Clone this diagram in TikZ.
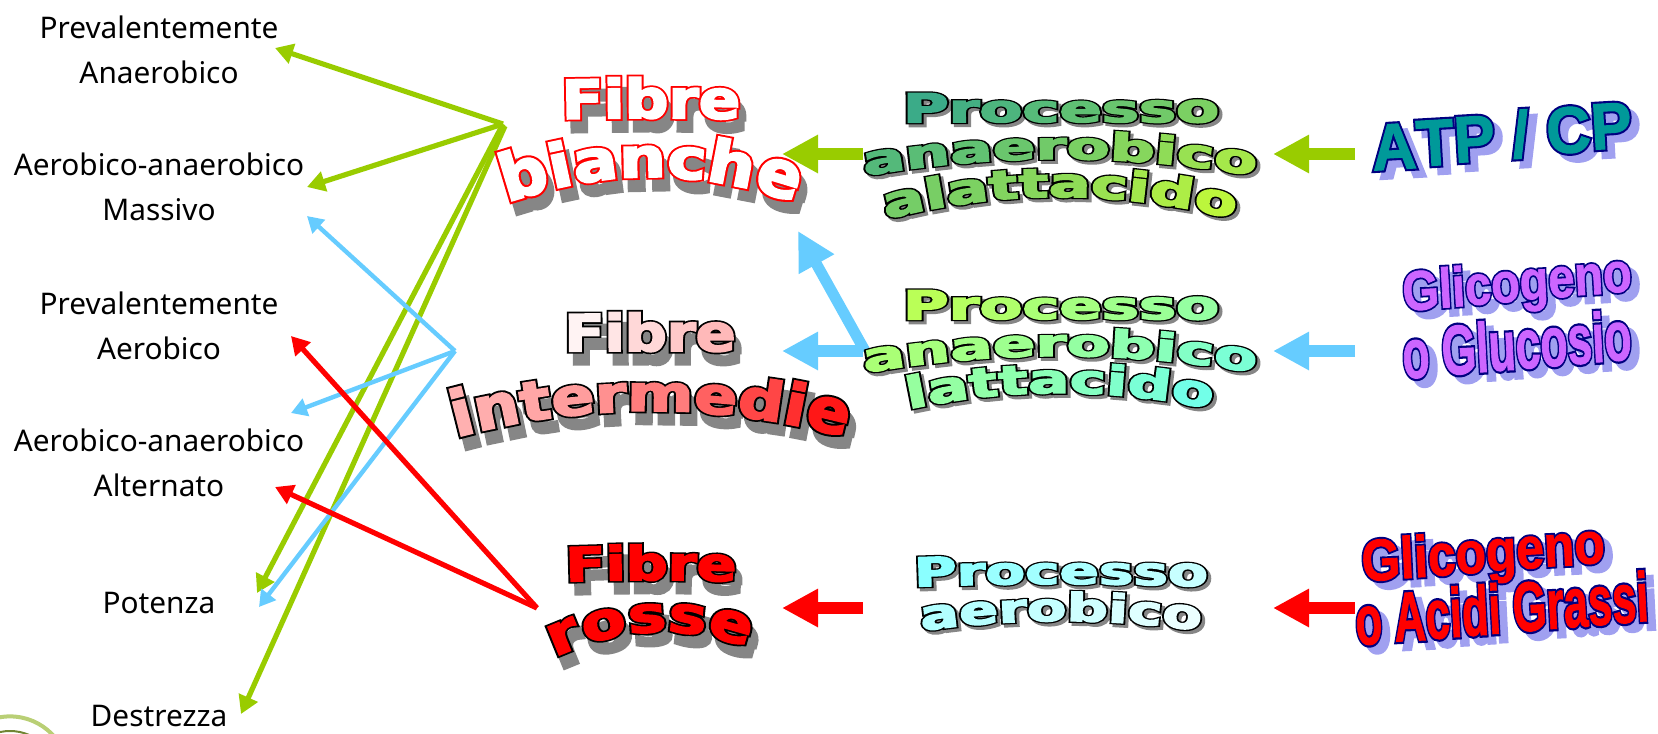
\documentclass[tikz,border=0pt]{standalone}
\usepackage{fontspec}
\usepackage{graphicx}
\usetikzlibrary{arrows.meta}
\setmainfont{Noto Sans}
\newfontfamily\waBlackS[FakeBold=10]{DejaVu Sans Bold}
\newfontfamily\waBlackF[FakeBold=3.5]{DejaVu Sans Bold}
\newfontfamily\waBoldS[FakeBold=8]{Liberation Sans Bold}
\newfontfamily\waBoldF[FakeBold=1.5]{Liberation Sans Bold}
\definecolor{agreen}{HTML}{99CC00}
\definecolor{ablue}{HTML}{66CCFF}
\definecolor{ared}{HTML}{FF0000}
\definecolor{shgray}{HTML}{868686}
\definecolor{shviolet}{HTML}{A0A0F0}
\definecolor{navy}{HTML}{000080}
\definecolor{teal1}{HTML}{1E9A9A}
\definecolor{lime}{HTML}{CCFF33}
\definecolor{cyan1}{HTML}{66FFFF}
\definecolor{violet1}{HTML}{CC66FF}
\definecolor{teal2}{HTML}{009999}
\makeatletter
\newlength\wa@w \newlength\wa@total \newlength\wa@pos \newcount\wa@n
\def\wa@measure{\setbox0\hbox{\pgfinterruptpicture\WAfs\fontsize{20pt}{20pt}\selectfont\wa@c\endpgfinterruptpicture}\wa@w=\wd0\relax}
\def\WAstyle#1#2#3#4#5#6#7#8{% S-font,F-font,stroke,shadow,dx,dy,rotfactor,endgrowth
  \def\WAfs{#1}\def\WAff{#2}\def\WAst{#3}\def\WAsh{#4}\def\WAdx{#5}\def\WAdy{#6}\def\WArf{#7}\def\WAg{#8}}
\def\WAgrad#1#2#3#4#5#6{\def\WAca{#1}\def\WAcb{#2}\def\WAxa{#3}\def\WAya{#4}\def\WAxb{#5}\def\WAyb{#6}}
% name, cx, cy, width px, cap height px, k, slope, word
\newcommand\wordart[8]{%
  \setlength\wa@total{0pt}%
  \@tfor\wa@c:=#8\do{\wa@measure\addtolength\wa@total{\wa@w}}%
  \pgfmathsetmacro\wa@sx{#4*0.5/\wa@total}%
  \pgfmathsetmacro\wa@sy{#5*0.5/(20*\WAcap)}%
  \setlength\wa@pos{0pt}\wa@n=0
  \@tfor\wa@c:=#8\do{\wa@geom{#2}{#3}{#4}{#6}{#7}%
    \node[wachar,name=#1-s\the\wa@n,rotate=\wa@r] at (\wa@x+\WAdx,\wa@y+\WAdy)
      {\WAfs\fontsize{20pt}{20pt}\selectfont\color{\WAsh}\scalebox{\wa@sx}[\wa@lsy]{\wa@c}};}%
  \setlength\wa@pos{0pt}\wa@n=0
  \@tfor\wa@c:=#8\do{\wa@geom{#2}{#3}{#4}{#6}{#7}%
    \pgfmathsetmacro\wa@t{100*max(0,min(1,0.5*((\wa@x-\WAxa)/(\WAxb-\WAxa)+(\wa@y-\WAya)/(\WAyb-\WAya))))}%
    \node[wachar,name=#1-o\the\wa@n,rotate=\wa@r] at (\wa@x,\wa@y)
      {\WAfs\fontsize{20pt}{20pt}\selectfont\color{\WAst}\scalebox{\wa@sx}[\wa@lsy]{\wa@c}};
    \node[wachar,name=#1-f\the\wa@n,rotate=\wa@r] at (\wa@x,\wa@y)
      {\WAff\fontsize{20pt}{20pt}\selectfont\color{\WAcb!\wa@t!\WAca}\scalebox{\wa@sx}[\wa@lsy]{\wa@c}};}%
}
\def\wa@geom#1#2#3#4#5{%
  \advance\wa@n by 1
  \wa@measure
  \pgfmathsetmacro\wa@dx{(\wa@pos+0.5*\wa@w)*\wa@sx/0.5-#3/2}%
  \pgfmathsetmacro\wa@h{\wa@dx/100}%
  \pgfmathsetmacro\wa@x{#1+\wa@dx}%
  \pgfmathsetmacro\wa@y{#2+#5*\wa@dx+(10000*#4)*\wa@h*\wa@h}%
  \pgfmathsetmacro\wa@s{#5+2*#4*\wa@dx}%
  \pgfmathsetmacro\wa@r{-\WArf*57.296*\wa@s*(1-\wa@s*\wa@s/3+\wa@s*\wa@s*\wa@s*\wa@s/5)}%
  \pgfmathsetmacro\wa@lsy{\wa@sy*(1+\WAg*(2*\wa@dx/#3)*(2*\wa@dx/#3))}%
  \addtolength\wa@pos{\wa@w}}
\makeatother
\def\WAcap{0.729}
\tikzset{
  wachar/.style={anchor=base,inner sep=0pt,outer sep=0pt},
  lab/.style={align=center,font=\fontsize{14.9pt}{22.6pt}\selectfont,inner sep=0pt,text=black},
  thin arrow/.style={line width=2.6pt,-{Triangle[length=9pt,width=10pt]}},
  thinb arrow/.style={line width=2.2pt,-{Triangle[length=8pt,width=9pt]}},
  block arrow/.style={line width=6pt,-{Triangle[length=18pt,width=18pt]}},
}
\begin{document}
\begin{tikzpicture}[x=0.5pt,y=-0.5pt]
\useasboundingbox (0,0) rectangle (1658,733);
% logo fragment
\begin{scope}
\clip (0,700) rectangle (60,733);
\draw[color=agreen!55!white!80!gray,line width=2pt] (10,775) circle (58.6);
\draw[color=agreen!50!black!80,line width=1pt] (10,779) circle (48);
\end{scope}
% left labels
\node[lab] (l1) at (159,49.5) {Prevalentemente\\Anaerobico};
\node[lab] (l2) at (159,187) {Aerobico-anaerobico\\Massivo};
\node[lab] (l3) at (159,325.5) {Prevalentemente\\Aerobico};
\node[lab] (l4) at (159,463) {Aerobico-anaerobico\\Alternato};
\node[lab] (l5) at (159,603) {Potenza};
\node[lab] (l6) at (159,716) {Destrezza};
% connector ends
\coordinate (gh) at (503,124);
\coordinate (bh) at (455,351);
\coordinate (rh) at (537,608);
\coordinate (g1) at (275,48);
\coordinate (g2) at (307,187);
\coordinate (g5) at (257,593);
\coordinate (g6) at (241,714);
\coordinate (b2) at (307,216);
\coordinate (b4) at (291,413);
\coordinate (b5) at (259,607);
\coordinate (r3) at (291,336);
\coordinate (r4) at (275,487);
\draw[thin arrow,agreen] (gh) -- (g1);
\draw[thin arrow,agreen] (gh) -- (g2);
\draw[thin arrow,agreen] (gh) -- (g5);
\draw[thin arrow,agreen] (505,126) -- (g6);
\draw[thinb arrow,ablue] (bh) -- (b2);
\draw[thinb arrow,ablue] (bh) -- (b4);
\draw[thinb arrow,ablue] (bh) -- (b5);
\draw[thin arrow,ared] (rh) -- (r3);
\draw[thin arrow,ared] (rh) -- (r4);
% block arrows
\coordinate (f1) at (782,154); \coordinate (p1l) at (863,154); \coordinate (p1r) at (1273,154); \coordinate (s1) at (1355,154);
\coordinate (f2) at (782,351); \coordinate (p2l) at (863,351); \coordinate (p2r) at (1273,351); \coordinate (s2) at (1355,351);
\coordinate (f3) at (782,608); \coordinate (p3l) at (863,608); \coordinate (p3r) at (1273,608); \coordinate (s3) at (1355,608);
\coordinate (f1b) at (798,231); \coordinate (p2d) at (865,351);
\draw[block arrow,agreen] (s1) -- (p1r);
\draw[block arrow,agreen] (p1l) -- (f1);
\draw[block arrow,ablue] (s2) -- (p2r);
\draw[block arrow,ablue] (p2l) -- (f2);
\draw[line width=5.5pt,ablue,-{Triangle[length=19pt,width=19pt]}] (p2d) -- (f1b);
\draw[block arrow,ared] (s3) -- (p3r);
\draw[block arrow,ared] (p3l) -- (f3);
% Fibre blocks
\WAstyle{\waBlackS}{\waBlackF}{ared}{shgray}{6}{12}{1}{0}
\WAgrad{white}{white}{500}{70}{800}{210}
\wordart{fb1}{651}{118}{178}{39}{0.00012}{0}{Fibre}
\def\WAg{0.25}
\wordart{fb2}{651}{177}{290}{40}{0.00123}{0}{bianche}
\WAstyle{\waBlackS}{\waBlackF}{black}{shgray}{6}{12}{1}{0}
\WAgrad{white}{ared}{560}{350}{850}{440}
\wordart{fi1}{650}{351}{171}{37}{0.00003}{0}{Fibre}
\def\WAg{0.3}
\wordart{fi2}{651}{411}{390}{36}{0.00069}{0}{intermedie}
\def\WAg{0}
\WAgrad{ared}{ared}{450}{500}{850}{660}
\wordart{fr1}{651}{580}{170}{34}{0.00022}{0}{Fibre}
\def\WAg{0.15}
\wordart{fr2}{651}{632}{195}{36}{0.0022}{-0.05}{rosse}
% Processo blocks
\WAstyle{\waBlackS}{\waBlackF}{black}{shgray}{3}{3}{1}{0.1}
\WAgrad{teal1}{lime}{884}{93}{1258}{222}
\wordart{pa1}{1061}{122}{316}{27}{0.00002}{0}{Processo}
\wordart{pa2}{1060}{159}{391}{27}{0.00044}{0}{anaerobico}
\wordart{pa3}{1060}{197}{349}{29}{0.00074}{0}{alattacido}
\WAgrad{lime}{cyan1}{884}{290}{1258}{411}
\wordart{pl1}{1061}{319}{316}{27}{0.00002}{0}{Processo}
\wordart{pl2}{1060}{356}{391}{27}{0.00044}{0}{anaerobico}
\wordart{pl3}{1060}{393}{303}{29}{0.0007}{0}{lattacido}
\WAgrad{cyan1}{white}{900}{555}{1220}{640}
\wordart{po1}{1061}{584}{293}{27}{0.00012}{0}{Processo}
\wordart{po2}{1061}{621}{279}{28}{0.0005}{0}{aerobico}
% right blocks
\WAstyle{\waBoldS}{\waBoldF}{navy}{shviolet}{8}{7}{0.6}{0}
\def\WAcap{0.716}
\WAgrad{teal2}{teal2}{0}{0}{1}{1}
\wordart{atp}{1503}{159}{260}{47}{0}{-0.095}{ATP~/~CP}
\WAgrad{violet1}{violet1}{0}{0}{1}{1}
\wordart{gl1}{1518}{301}{229}{40}{0}{-0.09}{Glicogeno}
\wordart{gl2}{1518}{369}{229}{50}{0}{-0.086}{o~Glucosio}
\WAgrad{ared}{ared}{0}{0}{1}{1}
\wordart{gr1}{1484}{572}{243}{42}{0}{-0.08}{Glicogeno}
\wordart{gr2}{1503}{633}{293}{50}{0}{-0.084}{o~Acidi~Grassi}
\end{tikzpicture}
\end{document}
